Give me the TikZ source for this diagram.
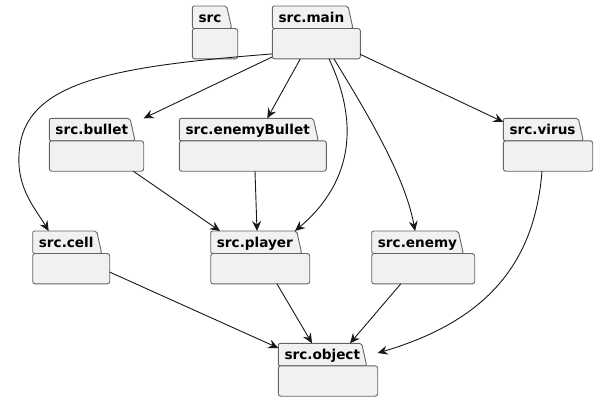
\documentclass[tikz,border=0pt]{standalone}
\usepackage{fontspec}
\setmainfont{DejaVu Sans}
\usetikzlibrary{arrows.meta}
\definecolor{pkgfill}{RGB}{241,241,241}
\definecolor{pkgline}{RGB}{100,100,100}
\definecolor{depline}{RGB}{24,24,24}
\tikzset{
  pkgbox/.style={anchor=north west, inner sep=0pt, minimum height=52.5pt},
  pkgshape/.style={draw=pkgline, fill=pkgfill, line width=0.9pt},
  pkglabel/.style={anchor=base west, inner sep=0pt, font=\fontsize{13.6}{16}\selectfont\bfseries},
  dep/.style={draw=depline, line width=0.9pt, ->, >={Stealth[length=10pt,width=9pt,inset=3.5pt]}}
}
% package: name, left, top, tab width, body width, label
\newcommand{\pkgnode}[6]{
  \node[pkgbox, minimum width=#5pt] (#1) at (#2,#3) {};
  \draw[pkgshape, rounded corners=2pt] ([yshift=-22.5pt]#1.north west) -- (#1.north west) -- ++(#4pt,0) -- ++(5pt,-22.5pt) -- cycle;
  \draw[pkgshape, rounded corners=2.5pt] ([yshift=-22.5pt]#1.north west) rectangle (#1.south east);
  \node[pkglabel] at ([xshift=6pt,yshift=-16pt]#1.north west) {#6};
}
\begin{document}
\begin{tikzpicture}[x=1pt,y=-1pt]
\useasboundingbox (0,0) rectangle (598,402);
% packages
\pkgnode{src}{192.3}{6}{34.4}{45}{src}
\pkgnode{main}{272.3}{6}{75.7}{87.7}{src.main}
\pkgnode{bullet}{49.3}{118.3}{80.7}{94}{src.bullet}
\pkgnode{enemyBullet}{179.3}{118.3}{134}{146.7}{src.enemyBullet}
\pkgnode{virus}{503.3}{118.3}{75}{89}{src.virus}
\pkgnode{cell}{32.7}{231}{64}{76.6}{src.cell}
\pkgnode{player}{210.7}{231}{86}{98.6}{src.player}
\pkgnode{enemy}{371.7}{231}{86.6}{102.6}{src.enemy}
\pkgnode{object}{278.3}{343.3}{83.4}{99}{src.object}
% dependencies
\draw[dep] ([yshift=5pt]main.south west) .. controls (120,66) and (30,80) .. (20,145) .. controls (14,185) and (33,205) .. ([xshift=16pt]cell.north west);
\draw[dep] ([yshift=2pt]main.south west) -- (bullet.north east);
\draw[dep] ([xshift=28pt]main.south west) -- ([xshift=88pt]enemyBullet.north west);
\draw[dep] ([xshift=56.7pt]main.south west) .. controls (358,120) and (355,180) .. ([xshift=84.3pt]player.north west);
\draw[dep] ([xshift=61.7pt]main.south west) .. controls (365,110) and (405,175) .. ([xshift=43.3pt]enemy.north west);
\draw[dep] ([yshift=4.5pt]main.south east) -- ([yshift=-3.7pt]virus.north west);
\draw[dep] ([xshift=84pt]bullet.south west) -- ([xshift=9.3pt]player.north west);
\draw[dep] ([xshift=75.7pt]enemyBullet.south west) -- ([xshift=46.3pt]player.north west);
\draw[dep] ([yshift=11.8pt]cell.south east) -- ([yshift=-4.7pt]object.north west);
\draw[dep] ([xshift=66.3pt]player.south west) -- ([xshift=33.7pt]object.north west);
\draw[dep] ([xshift=29pt]enemy.south west) -- ([xshift=71.7pt]object.north west);
\draw[dep] ([xshift=38.7pt]virus.south west) .. controls (535,260) and (490,320) .. ([yshift=-9.7pt]object.north east);
\end{tikzpicture}
\end{document}
